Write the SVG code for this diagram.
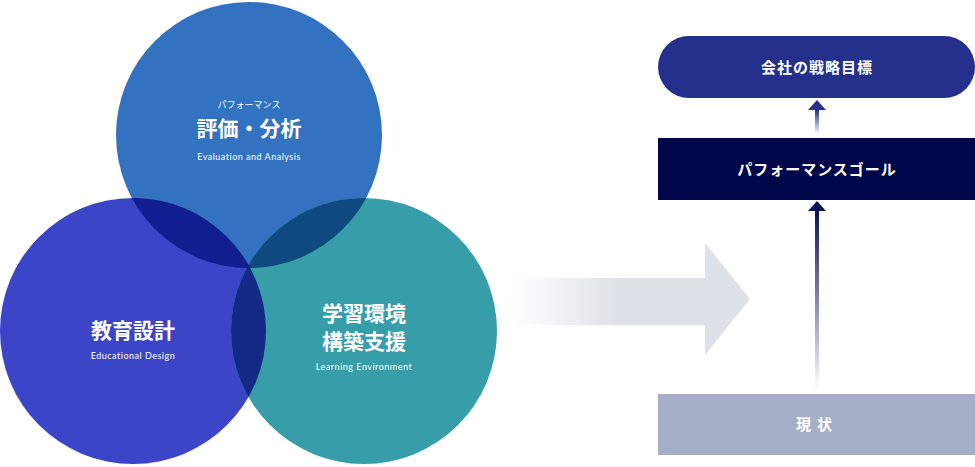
<svg xmlns="http://www.w3.org/2000/svg" width="975" height="467" viewBox="0 0 975 467">
<style>
text{font-family:"Noto Sans CJK JP","Noto Sans",sans-serif;fill:#fff;text-anchor:middle;font-weight:bold}
.en{font-family:"Lato","Noto Sans",sans-serif;font-size:9px;font-weight:normal;letter-spacing:0.5px}
.jp{font-size:21px}
.lab{font-size:15px;letter-spacing:1px}
</style>
<defs>
<clipPath id="cT"><circle cx="249" cy="135" r="133"/></clipPath>
<clipPath id="cL"><circle cx="133" cy="331" r="133"/></clipPath>
<clipPath id="cR"><circle cx="364" cy="331" r="133"/></clipPath>
<linearGradient id="gA" x1="0" x2="1" y1="0" y2="0"><stop offset="0" stop-color="#dde2e8" stop-opacity="0"/><stop offset="0.45" stop-color="#dde2e8"/></linearGradient>
<linearGradient id="gV" x1="0" x2="0" y1="0" y2="1"><stop offset="0" stop-color="#0a1155"/><stop offset="1" stop-color="#0a1155" stop-opacity="0"/></linearGradient>
<linearGradient id="gV2" x1="0" x2="0" y1="0" y2="1"><stop offset="0" stop-color="#252f8c"/><stop offset="1" stop-color="#252f8c" stop-opacity="0.1"/></linearGradient>
</defs>
<g id="circles">
<g id="n-top"><circle cx="249" cy="135" r="133" fill="#3272c0"/></g>
<g id="n-left"><circle cx="133" cy="331" r="133" fill="#3c45c8"/></g>
<g id="n-right"><circle cx="364" cy="331" r="133" fill="#379ea9"/></g>
<circle cx="133" cy="331" r="133" fill="#101e90" clip-path="url(#cT)"/>
<circle cx="364" cy="331" r="133" fill="#0e4a80" clip-path="url(#cT)"/>
<circle cx="364" cy="331" r="133" fill="#132a85" clip-path="url(#cL)"/>
<g clip-path="url(#cT)"><circle cx="364" cy="331" r="133" fill="#0a1a70" clip-path="url(#cL)"/></g>
<text x="249" y="108" style="font-size:9px;font-weight:normal">パフォーマンス</text>
<text x="249" y="136" class="jp">評価・分析</text>
<text x="249" y="160" class="en">Evaluation and Analysis</text>
<text x="133" y="338" class="jp">教育設計</text>
<text x="133" y="359" class="en">Educational Design</text>
<text x="364" y="321" class="jp">学習環境</text>
<text x="364" y="349" class="jp">構築支援</text>
<text x="364" y="370" class="en">Learning Environment</text>
</g>
<g id="connectors">
<path d="M510 278H705V243L750 299L705 355V325H510Z" fill="url(#gA)"/>
<rect x="815" y="110" width="4" height="22" fill="url(#gV2)"/>
<path d="M808 110L817 100L826 110Z" fill="#252f8c"/>
<rect x="815" y="210" width="4" height="180" fill="url(#gV)"/>
<path d="M808 211L817 201L826 211Z" fill="#0a1155"/>
</g>
<g id="goal"><rect x="658" y="36" width="317" height="62" rx="31" fill="#252f8c"/><text x="817" y="73" class="lab">会社の戦略目標</text></g>
<g id="perf"><rect x="658" y="138" width="317" height="62" fill="#00074b"/><text x="817" y="175" class="lab">パフォーマンスゴール</text></g>
<g id="now"><rect x="658" y="394" width="317" height="61" fill="#a6aec8"/><text x="817" y="430" class="lab" style="letter-spacing:6px">現状</text></g>
</svg>
